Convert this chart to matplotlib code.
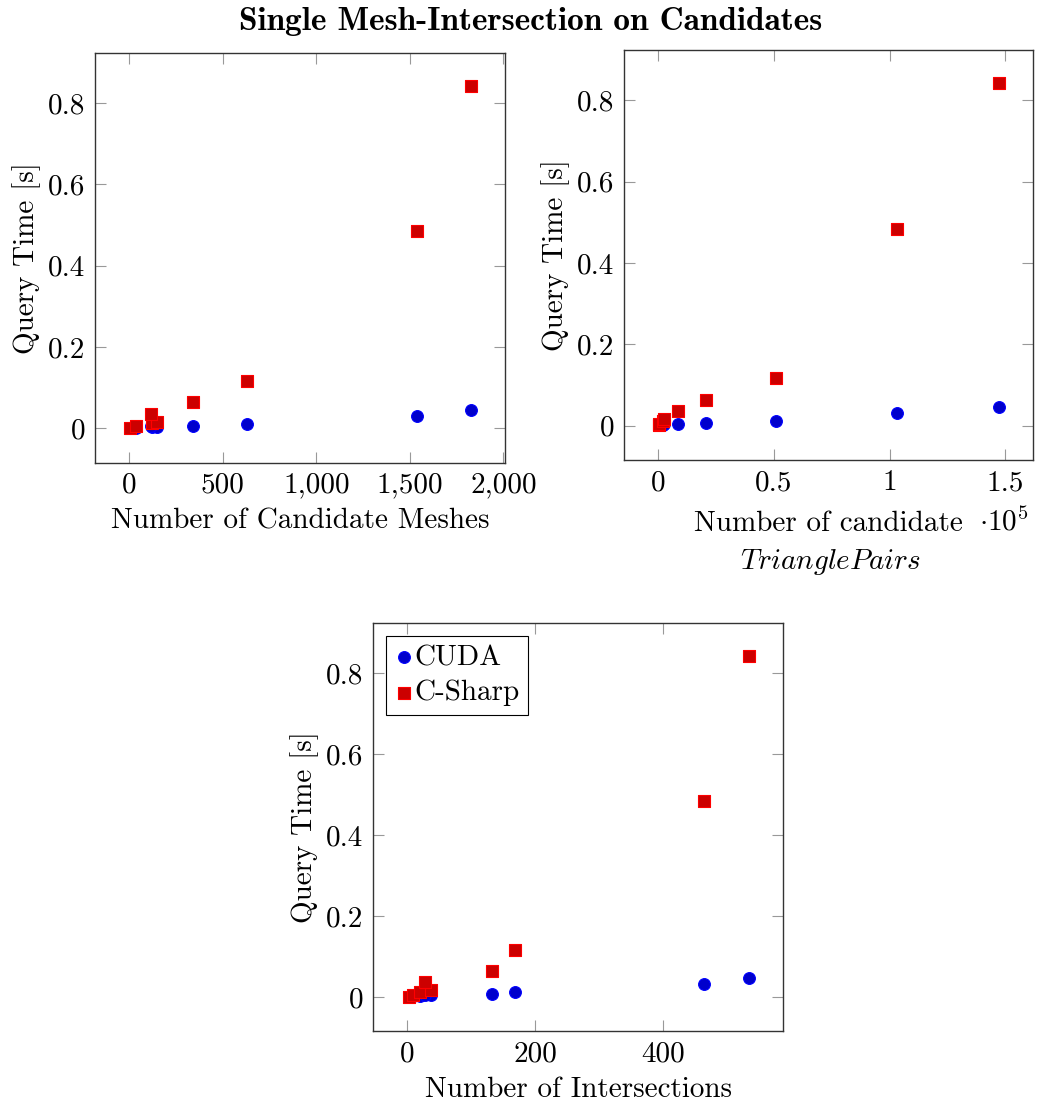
import matplotlib
matplotlib.use('Agg')
import matplotlib.pyplot as plt
from matplotlib.ticker import FuncFormatter, FixedLocator

plt.rcParams['font.family'] = ['cmr10', 'DejaVu Serif']
plt.rcParams['mathtext.fontset'] = 'cm'
plt.rcParams['axes.formatter.use_mathtext'] = True

# one entry per query, in the same order across the three views
meshes = [4, 34, 122, 148, 117, 343, 632, 1541, 1826]
tri_pairs = [100, 300, 2000, 2500, 8500, 20700, 50700, 103300, 147300]
intersections = [2, 8, 19, 37, 28, 133, 168, 465, 535]
cuda_time = [0.001, 0.002, 0.003, 0.004, 0.005, 0.007, 0.012, 0.031, 0.046]
csharp_time = [0.001, 0.005, 0.013, 0.017, 0.036, 0.064, 0.117, 0.485, 0.842]

y_ticks = [0, 0.2, 0.4, 0.6, 0.8]
x_ticks_meshes = [0, 500, 1000, 1500, 2000]
x_ticks_pairs = [0, 50000, 100000, 150000]
x_ticks_inter = [0, 200, 400]

FS = 21


def enlarge(vals, frac=0.1):
    lo, hi = min(vals), max(vals)
    lo = min(lo, 0)
    d = (hi - lo) * frac
    return lo - d, hi + d


def style_axes(ax, xvals, xticks, xfmt):
    ax.scatter(xvals, cuda_time, s=72, marker='o', color=(0, 0, 0.8),
               edgecolors='blue', linewidths=0.8, label='CUDA', zorder=3)
    ax.scatter(xvals, csharp_time, s=72, marker='s', color=(0.8, 0, 0),
               edgecolors='red', linewidths=0.8, label='C-Sharp', zorder=4)
    ax.set_xlim(*enlarge(xvals))
    ax.set_ylim(-0.084, 0.924)
    ax.xaxis.set_major_locator(FixedLocator(xticks))
    ax.yaxis.set_major_locator(FixedLocator(y_ticks))
    ax.xaxis.set_major_formatter(FuncFormatter(xfmt))
    ax.yaxis.set_major_formatter(FuncFormatter(lambda v, p: f'{v:g}'))
    ax.tick_params(direction='in', length=8, width=0.8, color='#999999',
                   top=True, right=True, labelsize=FS, pad=7)
    for sp in ax.spines.values():
        sp.set_linewidth(1.0)
        sp.set_color('#333333')
    ax.set_ylabel('Query Time [s]', fontsize=FS, labelpad=5)


fig = plt.figure(figsize=(10.38, 11.1), dpi=100)

ax1 = fig.add_axes([0.0915, 0.5832, 0.395, 0.3693])
style_axes(ax1, meshes, x_ticks_meshes, lambda v, p: f'{v:,.0f}')
ax1.set_xlabel('Number of Candidate Meshes', fontsize=FS, labelpad=7)

ax2 = fig.add_axes([0.6014, 0.5856, 0.3938, 0.3694])
style_axes(ax2, tri_pairs, x_ticks_pairs, lambda v, p: f'{v / 1e5:g}')
ax2.text(0.5, -0.172, 'Number of candidate', transform=ax2.transAxes,
         fontsize=FS, ha='center', va='baseline')
ax2.text(0.505, -0.266, '$TrianglePairs$', transform=ax2.transAxes,
         fontsize=FS, ha='center', va='baseline')
ax2.text(0.99, -0.172, r'$\cdot 10^5$', transform=ax2.transAxes,
         fontsize=FS, ha='right', va='baseline')

ax3 = fig.add_axes([0.3596, 0.0712, 0.395, 0.3677])
style_axes(ax3, intersections, x_ticks_inter, lambda v, p: f'{v:g}')
ax3.set_xlabel('Number of Intersections', fontsize=FS, labelpad=7)
leg = ax3.legend(loc='upper left', fontsize=FS, frameon=True, fancybox=False,
                 edgecolor='black', framealpha=1, handletextpad=0.05,
                 handlelength=0.6, borderpad=0.3, labelspacing=0.3,
                 borderaxespad=0.45)
leg.get_frame().set_linewidth(0.8)

fig.text(0.511, 0.994, 'Single Mesh-Intersection on Candidates',
         family=['cmb10', 'DejaVu Serif'], fontsize=24, ha='center', va='top')

fig.savefig('out.png', dpi=100)
